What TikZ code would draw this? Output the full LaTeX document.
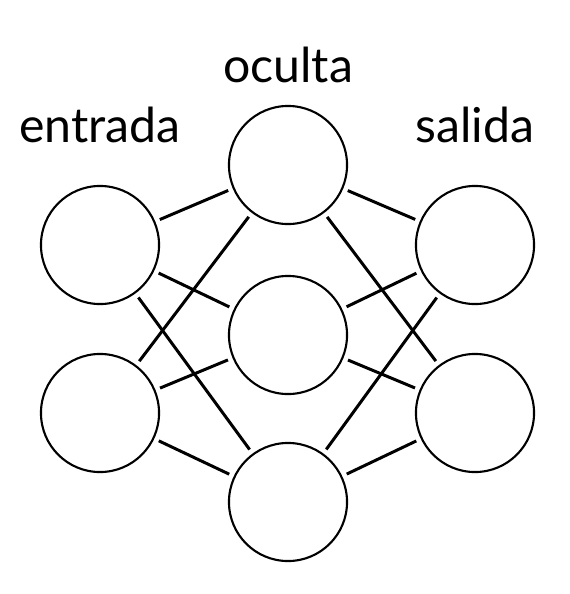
\documentclass[tikz,border=0pt]{standalone}
\usepackage{fontspec}
\setmainfont{Lato}
\begin{document}
\begin{tikzpicture}[x=0.01cm,y=-0.01cm,
    neuron/.style={circle,draw,line width=0.6pt,minimum size=1.18cm,inner sep=0pt},
    link/.style={line width=0.85pt,shorten >=4pt*0.35,shorten <=4pt*0.35},
    layername/.style={font=\fontsize{13.7}{16}\selectfont}]
    \useasboundingbox (0,0) rectangle (569,594);
    % capas
    \node[neuron] (in1) at (100,245) {};
    \node[neuron] (in2) at (100,413) {};
    \node[neuron] (hid1) at (288,165) {};
    \node[neuron] (hid2) at (288,335) {};
    \node[neuron] (hid3) at (288,502) {};
    \node[neuron] (out1) at (475,245) {};
    \node[neuron] (out2) at (475,413) {};
    % etiquetas
    \node[layername] (lin) at (100,125) {entrada};
    \node[layername] (lhid) at (288,65) {oculta};
    \node[layername] (lout) at (475,125) {salida};
    % conexiones
    \foreach \i in {1,2}
        \foreach \h in {1,2,3} {
            \draw[link] (in\i) -- (hid\h);
            \draw[link] (hid\h) -- (out\i);
        }
\end{tikzpicture}
\end{document}
